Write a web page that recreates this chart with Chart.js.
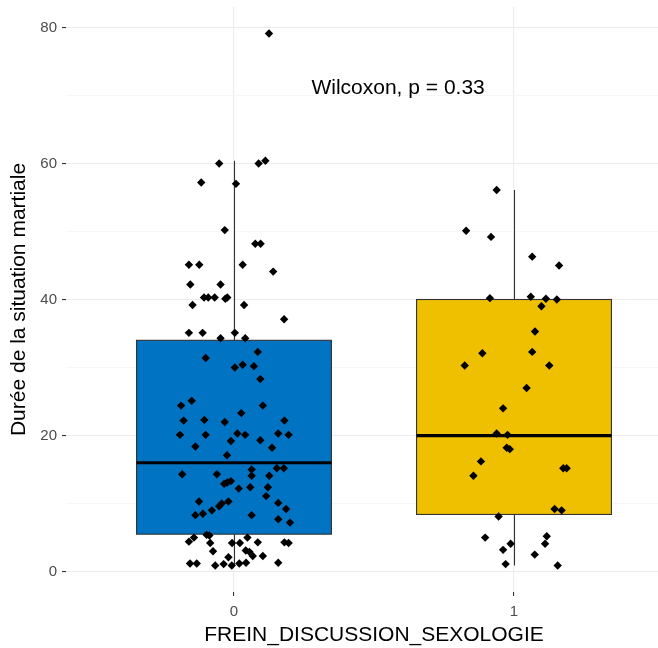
<!DOCTYPE html>
<html>
<head>
<meta charset="utf-8">
<script src="https://cdn.jsdelivr.net/npm/chart.js"></script>
<style>
  html, body { margin: 0; padding: 0; background: #fff; overflow: hidden; }
</style>
</head>
<body>
<canvas id="boxChart" width="689" height="648"></canvas>
<script>
// categories of FREIN_DISCUSSION_SEXOLOGIE
const categories = [0, 1];

// boxplot statistics
const q1 = [5.5, 8.4];
const median = [16, 20];
const q3 = [34, 40];
const whiskerLow = [0.9, 0.9];
const whiskerHigh = [60.4, 56.1];

// jittered points, group 0 (horizontal offset from category, value)
const jitter0 = [-0.053, 0.088, 0.112, -0.117, 0.007, -0.033, 0.076, 0.095, -0.161, -0.124,
  0.031, 0.140, -0.156, -0.048, -0.107, -0.092, -0.069, -0.031, -0.024, -0.148,
  0.036, 0.179, -0.161, -0.112, 0.003, -0.048, 0.040, 0.085, -0.101, 0.003,
  0.031, 0.071, 0.094, -0.189, -0.151, 0.103, 0.026, -0.180, -0.106, -0.033,
  0.180, -0.193, -0.101, 0.012, 0.040, 0.158, 0.195, -0.011, 0.094, -0.138,
  0.136, -0.025, -0.185, -0.061, 0.063, 0.063, 0.153, 0.178, 0.126, -0.035,
  -0.024, -0.011, 0.017, 0.058, 0.121, 0.115, -0.125, 0.158, -0.020, -0.044,
  -0.053, -0.079, 0.186, -0.138, -0.111, 0.063, 0.158, 0.200, -0.143, -0.098,
  -0.088, 0.048, -0.161, -0.085, -0.007, 0.021, 0.085, 0.180, 0.195, -0.075,
  0.042, 0.055, -0.020, 0.067, 0.103, -0.157, -0.133, -0.067, -0.037, -0.008,
  0.019, 0.043, 0.158, 0.125];
const duree0 = [60.0, 60.0, 60.4, 57.2, 57.0, 50.2, 48.2, 48.2, 45.1, 45.1,
  45.1, 44.1, 42.2, 42.2, 40.3, 40.3, 40.3, 40.1, 40.3, 39.2,
  39.2, 37.1, 35.1, 35.1, 35.1, 34.3, 34.3, 32.3, 31.4, 30.0,
  30.4, 30.2, 28.3, 24.4, 25.1, 24.4, 23.3, 22.2, 22.3, 22.0,
  22.2, 20.1, 20.1, 20.3, 20.1, 20.3, 20.1, 19.2, 19.3, 18.4,
  18.2, 17.1, 14.3, 14.3, 15.0, 14.1, 15.2, 15.2, 14.1, 12.9,
  13.1, 13.3, 12.2, 12.4, 12.4, 11.1, 10.3, 10.1, 10.3, 10.0,
  9.6, 9.0, 9.2, 8.3, 8.5, 8.3, 7.7, 7.2, 5.0, 5.4,
  5.3, 5.0, 4.4, 4.2, 4.2, 4.2, 4.3, 4.3, 4.2, 3.0,
  3.1, 2.9, 2.1, 2.3, 2.3, 1.2, 1.2, 0.9, 1.1, 0.9,
  1.2, 1.3, 1.3, 79.1];

// jittered points, group 1
const jitter1 = [-0.062, -0.171, -0.082, 0.065, 0.161, -0.086, 0.060, 0.114, 0.153, 0.098,
  0.075, -0.113, 0.065, -0.176, 0.126, 0.045, -0.039, -0.062, -0.023, -0.026,
  -0.015, -0.118, 0.176, 0.188, -0.145, 0.145, 0.170, -0.055, -0.103, 0.117,
  0.111, -0.012, -0.039, 0.074, -0.030, 0.156];
const duree1 = [56.1, 50.1, 49.2, 46.3, 45.0, 40.2, 40.4, 40.1, 40.0, 39.0,
  35.3, 32.1, 32.3, 30.3, 30.3, 27.0, 24.0, 20.3, 20.1, 18.2,
  18.0, 16.2, 15.2, 15.2, 14.1, 9.2, 9.0, 8.1, 5.0, 5.2,
  4.1, 4.1, 3.2, 2.5, 1.1, 0.9];

const yTicks = [0, 10, 20, 30, 40, 50, 60, 70, 80];
const testLabel = 'Wilcoxon, p = 0.33';
const testLabelPos = { x: 0.586, y: 71 };

const boxColors = ['#0073C2', '#EFC000'];
const boxHalf = 0.348;
const FONT = "'Liberation Sans', Arial, sans-serif";

function points(cat, offs, vals) {
  return vals.map((v, i) => ({ x: cat + offs[i], y: v }));
}

const boxPlugin = {
  id: 'boxes',
  beforeDatasetsDraw(chart) {
    const { ctx, scales: { x, y } } = chart;
    categories.forEach((c, i) => {
      const cx = Math.round(x.getPixelForValue(c)) + 0.5;
      const left = x.getPixelForValue(c - boxHalf);
      const right = x.getPixelForValue(c + boxHalf);
      const top = y.getPixelForValue(q3[i]);
      const bottom = y.getPixelForValue(q1[i]);
      ctx.save();
      ctx.strokeStyle = '#333333';
      ctx.lineWidth = 1.1;
      ctx.beginPath();
      ctx.moveTo(cx, y.getPixelForValue(whiskerHigh[i]));
      ctx.lineTo(cx, top);
      ctx.moveTo(cx, bottom);
      ctx.lineTo(cx, y.getPixelForValue(whiskerLow[i]));
      ctx.stroke();
      ctx.fillStyle = boxColors[i];
      ctx.fillRect(left, top, right - left, bottom - top);
      ctx.strokeRect(left, top, right - left, bottom - top);
      ctx.strokeStyle = '#000';
      ctx.lineWidth = 3.2;
      ctx.beginPath();
      const my = y.getPixelForValue(median[i]);
      ctx.moveTo(left, my);
      ctx.lineTo(right, my);
      ctx.stroke();
      ctx.restore();
    });
  },
  afterDatasetsDraw(chart) {
    const { ctx, scales: { x, y } } = chart;
    ctx.save();
    ctx.font = '21px ' + FONT;
    ctx.fillStyle = '#000';
    ctx.textAlign = 'center';
    ctx.textBaseline = 'middle';
    ctx.fillText(testLabel, x.getPixelForValue(testLabelPos.x), y.getPixelForValue(testLabelPos.y));
    ctx.restore();
  }
};

const pointStyle = {
  pointStyle: 'rectRot',
  pointRadius: 4.2,
  backgroundColor: '#000',
  borderColor: '#000',
  borderWidth: 0
};

new Chart(document.getElementById('boxChart').getContext('2d'), {
  type: 'scatter',
  data: {
    datasets: [
      { label: '0', data: points(categories[0], jitter0, duree0), ...pointStyle },
      { label: '1', data: points(categories[1], jitter1, duree1), ...pointStyle }
    ]
  },
  options: {
    responsive: false,
    animation: false,
    layout: { padding: { left: 0, top: 7, right: 7, bottom: 0 } },
    plugins: { legend: { display: false }, tooltip: { enabled: false } },
    scales: {
      x: {
        type: 'linear',
        min: -0.6,
        max: 1.6,
        afterBuildTicks: s => { s.ticks = categories.map(v => ({ value: v })); },
        afterFit: s => { s.height = 56; s.paddingLeft = 0; s.paddingRight = 0; },
        border: { display: false },
        grid: { color: '#EBEBEB', lineWidth: 1.1, tickLength: 4, tickColor: '#333333' },
        ticks: { color: '#4D4D4D', font: { family: FONT, size: 15 }, padding: 7, callback: v => String(v) },
        title: { display: true, text: 'FREIN_DISCUSSION_SEXOLOGIE', color: '#000', font: { family: FONT, size: 21 }, padding: { top: 0, bottom: 0 } }
      },
      y: {
        min: -3,
        max: 83,
        afterBuildTicks: s => { s.ticks = yTicks.map(v => ({ value: v })); },
        afterFit: s => { s.width = 66; s.paddingTop = 0; s.paddingBottom = 0; },
        border: { display: false },
        grid: {
          color: c => c.tick && c.tick.value % 20 === 0 ? '#EBEBEB' : '#F3F3F3',
          lineWidth: c => c.tick && c.tick.value % 20 === 0 ? 1.1 : 0.7,
          tickLength: 4,
          tickColor: c => c.tick && c.tick.value % 20 === 0 ? '#333333' : 'rgba(0,0,0,0)'
        },
        ticks: { color: '#4D4D4D', font: { family: FONT, size: 15 }, padding: 5, callback: v => v % 20 === 0 ? String(v) : '' },
        title: { display: true, text: 'Durée de la situation martiale', color: '#000', font: { family: FONT, size: 21 }, padding: { top: 7, bottom: 0 } }
      }
    }
  },
  plugins: [boxPlugin]
});
</script>
</body>
</html>
